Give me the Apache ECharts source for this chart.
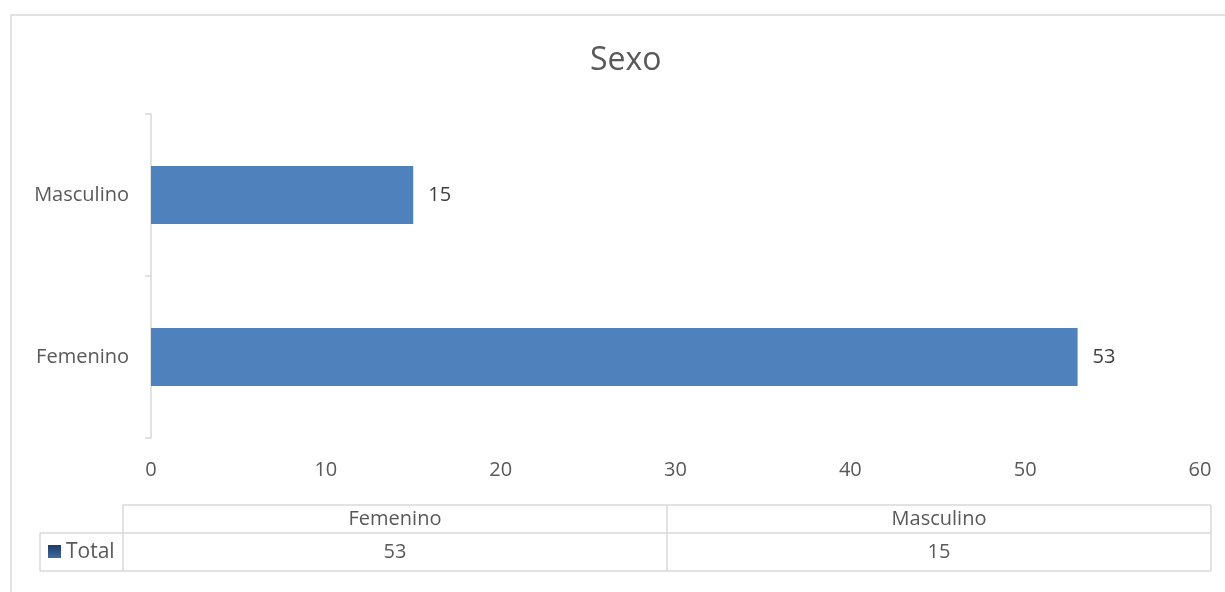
<!DOCTYPE html>
<html>
<head>
<meta charset="utf-8">
<script src="https://cdn.jsdelivr.net/npm/echarts@6/dist/echarts.min.js"></script>
<style>
  html, body { margin: 0; padding: 0; background: #fff; }
  #chart { width: 1225px; height: 592px; }
</style>
</head>
<body>
<div id="chart"></div>
<script>
// datos del gráfico
const categories = ['Femenino', 'Masculino'];
const totals = [53, 15];
const seriesName = 'Total';
const xTicks = [0, 10, 20, 30, 40, 50, 60];

const textColor = '#595959';
const lineColor = '#d9d9d9';
const font = '"Open Sans", "Noto Sans", sans-serif';

const chart = echarts.init(document.getElementById('chart'));

// tabla de datos debajo del gráfico (como en Excel)
const tableLeft = 40, colStart = 123, tableRight = 1211;
const headTop = 505, rowTop = 533, rowBottom = 571;
const colWidth = (tableRight - colStart) / categories.length;

const line = (x1, y1, x2, y2) => ({
  type: 'line',
  shape: { x1, y1, x2, y2 },
  style: { stroke: lineColor, lineWidth: 1.5 },
  silent: true
});

const tableGraphics = [
  // borde del gráfico
  {
    type: 'rect',
    shape: { x: 11, y: 15, width: 1240, height: 620 },
    style: { fill: 'none', stroke: lineColor, lineWidth: 1.5 }
  },
  line(colStart, headTop, tableRight, headTop),
  line(tableLeft, rowTop, tableRight, rowTop),
  line(tableLeft, rowBottom, tableRight, rowBottom),
  line(tableLeft, rowTop, tableLeft, rowBottom),
  line(tableRight, headTop, tableRight, rowBottom),
  {
    type: 'rect',
    shape: { x: 48, y: 545, width: 13, height: 13 },
    style: {
      fill: new echarts.graphic.LinearGradient(0, 0, 0, 1, [
        { offset: 0, color: '#1c3a66' },
        { offset: 1, color: '#3f6aa0' }
      ])
    }
  },
  {
    type: 'text',
    x: 66, y: 552,
    style: { text: seriesName, font: '21px ' + font, fill: textColor, verticalAlign: 'middle' }
  }
];

categories.forEach((c, i) => {
  const x0 = colStart + i * colWidth;
  tableGraphics.push(line(x0, headTop, x0, rowBottom));
  tableGraphics.push({
    type: 'text',
    x: x0 + colWidth / 2, y: 519,
    style: { text: c, font: '20px ' + font, fill: textColor, align: 'center', verticalAlign: 'middle' }
  });
  tableGraphics.push({
    type: 'text',
    x: x0 + colWidth / 2, y: 552,
    style: { text: String(totals[i]), font: '20px ' + font, fill: textColor, align: 'center', verticalAlign: 'middle' }
  });
});

const option = {
  animation: false,
  title: {
    text: 'Sexo',
    left: 585,
    top: 40,
    textStyle: { fontFamily: font, fontSize: 32, fontWeight: 'normal', color: textColor }
  },
  grid: { left: 151, right: 25, top: 114, bottom: 154, containLabel: false },
  xAxis: {
    type: 'value',
    min: xTicks[0],
    max: xTicks[xTicks.length - 1],
    interval: 10,
    axisLine: { show: false },
    axisTick: { show: false },
    splitLine: { show: false },
    axisLabel: { margin: 22, fontSize: 20, color: textColor, fontFamily: font }
  },
  yAxis: {
    type: 'category',
    data: categories,
    axisLine: { show: true, lineStyle: { color: lineColor, width: 1.5 } },
    axisTick: { show: true, length: 6, lineStyle: { color: lineColor, width: 1.5 } },
    axisLabel: { margin: 22, fontSize: 20, color: textColor, fontFamily: font }
  },
  series: [{
    name: seriesName,
    type: 'bar',
    data: totals,
    barWidth: 58,
    itemStyle: { color: '#4f81bd' },
    label: {
      show: true,
      position: 'right',
      distance: 15,
      fontSize: 20,
      color: '#404040',
      fontFamily: font
    }
  }],
  graphic: tableGraphics
};

chart.setOption(option);
</script>
</body>
</html>
